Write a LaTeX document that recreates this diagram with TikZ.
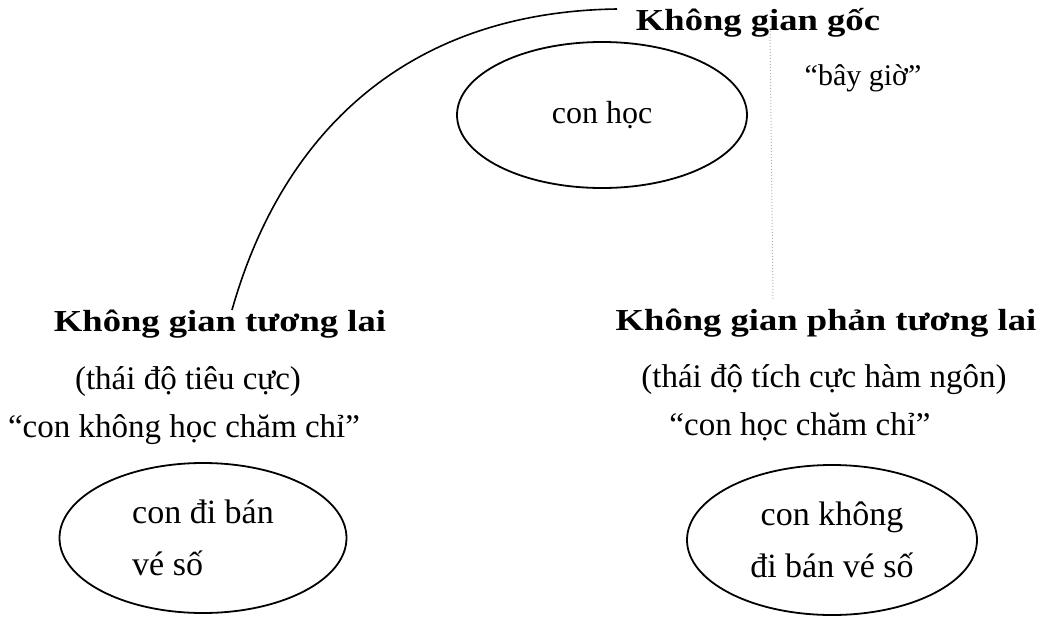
\documentclass[tikz,border=0pt]{standalone}
\usepackage{fontspec}
\setmainfont{Liberation Serif}
\newfontfamily\titlefont[FakeStretch=1.2]{Liberation Serif Bold}
\usetikzlibrary{shapes.geometric}
\begin{document}
\begin{tikzpicture}[x=1pt,y=-1pt,
  title/.style={font=\titlefont\fontsize{30.5}{36}\selectfont, anchor=base, inner sep=0pt},
  txt/.style={font=\fontsize{33}{40}\selectfont, anchor=base, inner sep=0pt},
  blob/.style={draw, ellipse, line width=1.8pt, inner sep=0pt},
  link/.style={line width=1.6pt},
  faint/.style={draw=black!30, line width=1pt, dotted}]
\useasboundingbox (0,0) rectangle (1039,621);
% top
\node[title] (g) at (758,30) {Không gian gốc};
\node[txt, font=\fontsize{30}{36}\selectfont] (bg) at (863,85) {“bây giờ”};
\node[blob, minimum width=290pt, minimum height=146pt, font=\fontsize{32}{38}\selectfont] (e0) at (602,115) {con học};
% left
\node[title] (f) at (220,331) {Không gian tương lai};
\node[txt] (f1) at (188,389) {(thái độ tiêu cực)};
\node[txt] (f2) at (184,437) {“con không học chăm chỉ”};
\node[blob, minimum width=287pt, minimum height=150pt, align=left, font=\fontsize{34}{52}\selectfont] (e1) at (203,538) {con đi bán\\ vé số};
% right
\node[title] (a) at (826,330) {Không gian phản tương lai};
\node[txt] (a1) at (824,387) {(thái độ tích cực hàm ngôn)};
\node[txt] (a2) at (800,435) {“con học chăm chỉ”};
\node[blob, minimum width=290pt, minimum height=150pt, align=center, font=\fontsize{34}{52}\selectfont] (e2) at (832,540) {con không\\đi bán vé số};
% connectors
\coordinate (c0) at (617,9);
\coordinate (c1) at (232,310);
\draw[link] (c0) .. controls (400,12) and (280,140) .. (c1);
\coordinate (d0) at (770,28);
\coordinate (d1) at (773,300);
\draw[faint] (d0) -- (d1);
\end{tikzpicture}
\end{document}
